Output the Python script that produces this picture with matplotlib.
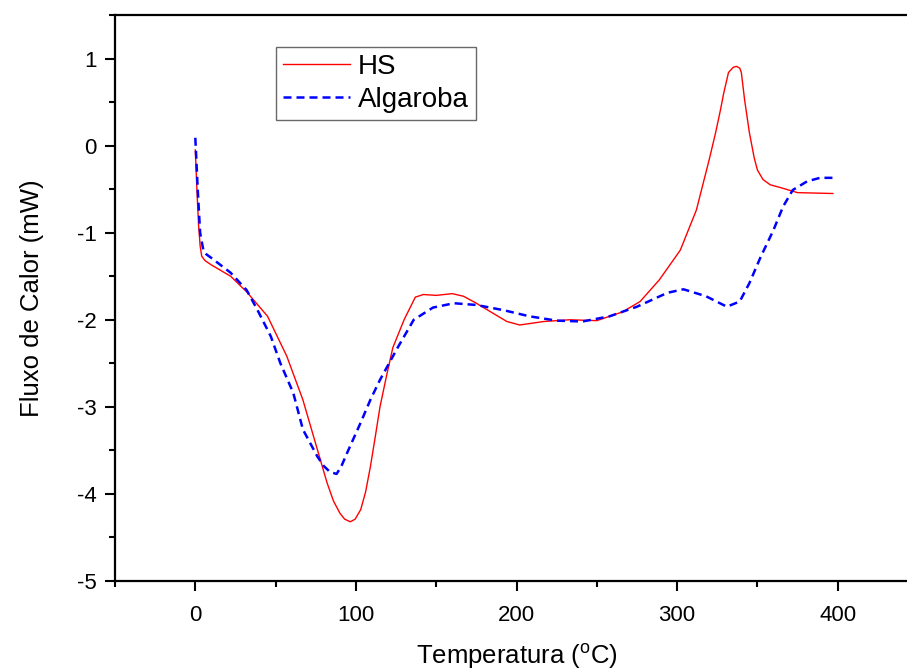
import numpy as np
import matplotlib.pyplot as plt
from matplotlib.ticker import MultipleLocator

plt.rcParams['font.family'] = ['Liberation Sans', 'DejaVu Sans']
plt.rcParams['mathtext.fontset'] = 'custom'
plt.rcParams['mathtext.rm'] = 'Liberation Sans'
plt.rcParams['axes.unicode_minus'] = False

# HS
t_hs = [0, 1, 2, 3, 4, 6, 10, 22, 32, 45, 57, 67, 76, 82, 86, 90, 93, 96.5,
        99.5, 103, 106, 109, 112, 115, 119, 123, 130, 137, 142, 150, 160, 167,
        175, 184, 194, 202, 217, 233, 250, 266, 277, 289, 302, 312, 316, 320,
        324, 327, 329, 332, 335, 337, 339, 340, 342, 345, 348, 350, 353.5, 358,
        364, 375, 397]
q_hs = [-0.05, -0.5, -0.9, -1.15, -1.27, -1.32, -1.37, -1.5, -1.68, -1.96,
        -2.42, -2.92, -3.49, -3.87, -4.08, -4.22, -4.29, -4.32, -4.29, -4.18,
        -3.98, -3.69, -3.35, -3.0, -2.65, -2.32, -2.0, -1.74, -1.71, -1.72,
        -1.70, -1.73, -1.81, -1.91, -2.02, -2.06, -2.02, -2.0, -2.01, -1.91,
        -1.79, -1.54, -1.20, -0.74, -0.45, -0.16, 0.15, 0.41, 0.6, 0.84, 0.9,
        0.91, 0.89, 0.84, 0.53, 0.15, -0.14, -0.28, -0.39, -0.45, -0.48, -0.54,
        -0.55]

# Algaroba
t_alg = [0, 0.5, 1.5, 3, 5, 7, 10, 22, 32, 38.5, 47, 53, 61, 67, 76, 80, 84,
         88, 91, 94.5, 103, 109, 115, 126, 136, 148, 161, 175, 192, 208, 225,
         241, 258, 275, 294, 304, 318, 331, 339, 345, 352, 360, 366, 372, 381,
         389, 397]
q_alg = [0.09, -0.1, -0.5, -1.0, -1.2, -1.25, -1.29, -1.46, -1.66, -1.88,
         -2.19, -2.50, -2.84, -3.26, -3.57, -3.68, -3.75, -3.77, -3.68, -3.53,
         -3.18, -2.92, -2.69, -2.32, -2.0, -1.86, -1.81, -1.83, -1.89, -1.96,
         -2.01, -2.02, -1.96, -1.85, -1.69, -1.65, -1.73, -1.85, -1.79, -1.58,
         -1.28, -0.97, -0.70, -0.51, -0.41, -0.37, -0.37]

fig = plt.figure(figsize=(9.07, 6.71), dpi=100)
ax = fig.add_axes([115/907, 90/671, 803/907, 566/671])

ax.plot(t_hs, q_hs, color='red', linewidth=1.0, label='HS')
ax.plot(t_alg, q_alg, color='blue', linewidth=1.8, dashes=(3.2, 2.0), label='Algaroba')

ax.set_xlim(-50, 450)
ax.set_ylim(-5, 1.5)
ax.xaxis.set_major_locator(MultipleLocator(100))
ax.xaxis.set_minor_locator(MultipleLocator(50))
ax.yaxis.set_major_locator(MultipleLocator(1))
ax.yaxis.set_minor_locator(MultipleLocator(0.5))
ax.tick_params(which='major', direction='out', length=7, width=1.5, labelsize=16, pad=10)
ax.tick_params(which='minor', direction='out', length=4, width=1.5)
ax.tick_params(axis='y', which='major', pad=6)
for s in ax.spines.values():
    s.set_linewidth(1.6)
ax.spines['right'].set_visible(False)

ax.set_xlabel('Temperatura ($^{\\rm o}$C)', fontsize=18.5, labelpad=11)
ax.set_ylabel('Fluxo de Calor (mW)', fontsize=18.5, labelpad=24)

leg = ax.legend(loc='upper left', bbox_to_anchor=(161/803, 1 - 32/566), fontsize=20,
                frameon=True, fancybox=False, borderpad=0.25, handlelength=2.4,
                handletextpad=0.3, labelspacing=0.25, borderaxespad=0)
leg.get_frame().set_edgecolor('#444444')
leg.get_frame().set_linewidth(1.0)

plt.savefig('out.png', dpi=100)
